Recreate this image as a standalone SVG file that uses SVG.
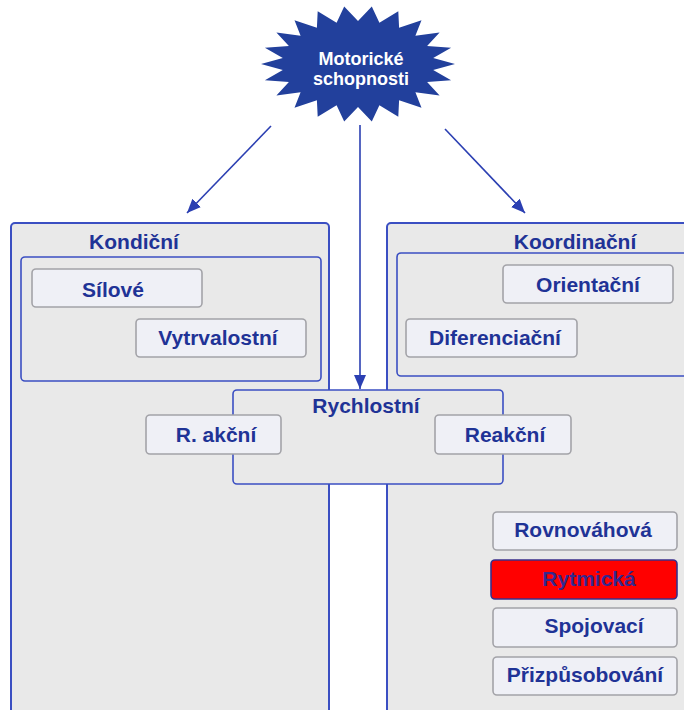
<svg xmlns="http://www.w3.org/2000/svg" width="684" height="710" viewBox="0 0 684 710">
<defs>
<style>
.outer{fill:#e9e9e9;stroke:#3b4fc2;stroke-width:2}
.inner{fill:#e9e9e9;stroke:#3b4fc2;stroke-width:1.6}
.node{fill:#eff0f6;stroke:#a3a3a8;stroke-width:1.6}
.hot{fill:#ff0000;stroke:#3a2f8a;stroke-width:1.6}
.t{font-family:"Liberation Sans",Arial,sans-serif;font-weight:bold;font-size:21px;fill:#1f3396;text-anchor:middle}
.tw{font-family:"Liberation Sans",Arial,sans-serif;font-weight:bold;font-size:18px;fill:#ffffff;text-anchor:middle}
.conn{stroke:#2b3fb2;stroke-width:1.6;fill:none}
</style>
<marker id="ah" markerUnits="userSpaceOnUse" markerWidth="16" markerHeight="12" refX="14" refY="6" orient="auto">
<path d="M0,0 L14,6 L0,12 Z" fill="#2b3fb2"/>
</marker>
</defs>
<rect width="684" height="710" fill="#ffffff"/>
<g id="kondicni">
<rect class="outer" x="11" y="223" width="318" height="520" rx="4"/>
<text class="t" x="134" y="249">Kondiční</text>
</g>
<g id="koordinacni">
<rect class="outer" x="387" y="223" width="320" height="520" rx="4"/>
<text class="t" x="575" y="249">Koordinační</text>
</g>
<g id="kondicni-inner">
<rect class="inner" x="21" y="257" width="300" height="124" rx="4"/>
</g>
<g id="koordinacni-inner">
<rect class="inner" x="397" y="253" width="310" height="123" rx="4"/>
</g>
<g id="silove">
<rect class="node" x="32" y="269" width="170" height="38" rx="4"/>
<text class="t" x="113" y="297">Sílové</text>
</g>
<g id="vytrvalostni">
<rect class="node" x="136" y="319" width="170" height="38" rx="4"/>
<text class="t" x="218" y="345">Vytrvalostní</text>
</g>
<g id="orientacni">
<rect class="node" x="503" y="265" width="170" height="38" rx="4"/>
<text class="t" x="588" y="292">Orientační</text>
</g>
<g id="diferenciacni">
<rect class="node" x="406" y="319" width="171" height="38" rx="4"/>
<text class="t" x="495" y="345">Diferenciační</text>
</g>
<g id="rychlostni">
<rect class="inner" x="233" y="390" width="270" height="94" rx="4"/>
<text class="t" x="366" y="413">Rychlostní</text>
</g>
<g id="r-akcni">
<rect class="node" x="146" y="415" width="135" height="39" rx="4"/>
<text class="t" x="216" y="442">R. akční</text>
</g>
<g id="reakcni">
<rect class="node" x="435" y="415" width="136" height="39" rx="4"/>
<text class="t" x="505" y="442">Reakční</text>
</g>
<g id="rovnovahova">
<rect class="node" x="493" y="512" width="184" height="38" rx="4"/>
<text class="t" x="583" y="537">Rovnováhová</text>
</g>
<g id="rytmicka">
<rect class="hot" x="491" y="560" width="186" height="39" rx="4"/>
<text class="t" x="589" y="586" style="fill:#33288f">Rytmická</text>
</g>
<g id="spojovaci">
<rect class="node" x="493" y="608" width="184" height="39" rx="4"/>
<text class="t" x="594" y="633">Spojovací</text>
</g>
<g id="prizpusobovani">
<rect class="node" x="493" y="657" width="184" height="38" rx="4"/>
<text class="t" x="585" y="682">Přizpůsobování</text>
</g>
<g id="motoricke">
<polygon fill="#22409c" points="455,64 433.2,70.1 451.1,80.3 427.1,81.9 439.6,95.4 415.4,92.2 421.5,107.8 399.1,100.2 398.3,116.8 379.4,105.3 371.8,121.4 358,107 344.2,121.4 336.6,105.3 317.7,116.8 316.9,100.2 294.5,107.8 300.6,92.2 276.4,95.4 288.9,81.9 264.9,80.3 282.8,70.1 261,64 282.8,57.9 264.9,47.7 288.9,46.1 276.4,32.6 300.6,35.8 294.5,20.2 316.9,27.8 317.7,11.2 336.6,22.7 344.2,6.6 358,21 371.8,6.6 379.4,22.7 398.3,11.2 399.1,27.8 421.5,20.2 415.4,35.8 439.6,32.6 427.1,46.1 451.1,47.7 433.2,57.9"/>
<text class="tw" x="361" y="65">Motorické</text>
<text class="tw" x="361" y="85">schopnosti</text>
</g>
<g id="connectors">
<line class="conn" x1="271" y1="126" x2="187" y2="213" marker-end="url(#ah)"/>
<line class="conn" x1="360" y1="125" x2="360" y2="389" marker-end="url(#ah)"/>
<line class="conn" x1="445" y1="129" x2="525" y2="213" marker-end="url(#ah)"/>
</g>
</svg>
